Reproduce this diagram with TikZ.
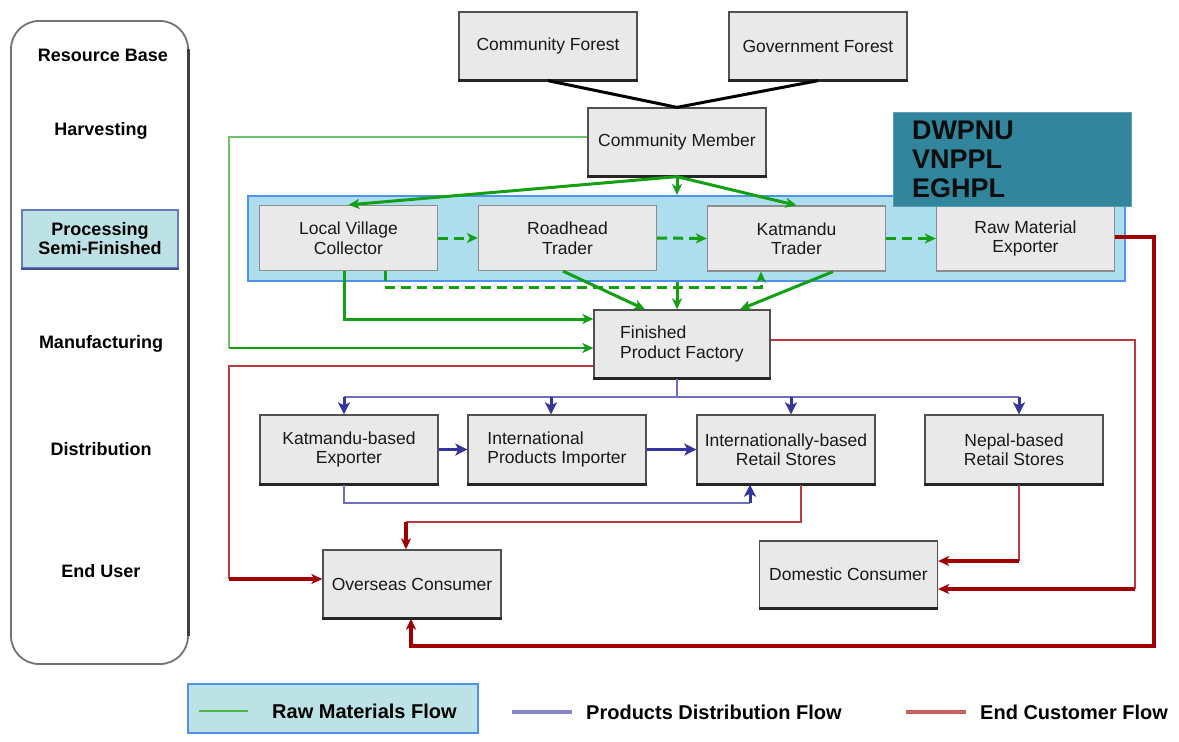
\documentclass[tikz,border=0pt]{standalone}
\usepackage{fontspec}
\setmainfont{Liberation Sans}
\usetikzlibrary{arrows.meta}
\definecolor{boxfill}{HTML}{E9E9E9}
\definecolor{boxline}{HTML}{505050}
\definecolor{softline}{HTML}{8C8C8C}
\definecolor{bandfill}{HTML}{ADDEEE}
\definecolor{bandline}{HTML}{4F92EE}
\definecolor{tealbox}{HTML}{31859C}
\definecolor{procfill}{HTML}{BCE2E6}
\definecolor{procline}{HTML}{6A78C0}
\definecolor{procedge}{HTML}{3F4FA0}
\definecolor{rawgreen}{HTML}{14A014}
\definecolor{lightgreen}{HTML}{6CC46C}
\definecolor{distblue}{HTML}{6F6FC0}
\definecolor{darkblue}{HTML}{3535A0}
\definecolor{darkred}{HTML}{A00000}
\definecolor{thinred}{HTML}{B83C3C}
\definecolor{legblue}{HTML}{8585C8}
\definecolor{legred}{HTML}{C86060}
\definecolor{leggreen}{HTML}{4CB84C}
\begin{document}
\begin{tikzpicture}[x=1pt,y=-1pt,
  flowbox/.style={draw=boxline, line width=1.3pt, fill=boxfill, inner sep=0pt,
    minimum width=178pt, minimum height=68pt,
    font=\fontsize{17.5}{19.5}\selectfont, text=black!90, align=center},
  bandbox/.style={flowbox, draw=softline, minimum height=65pt},
  stagelabel/.style={font=\fontsize{18}{19}\selectfont\bfseries, align=center, inner sep=0pt},
  legendtext/.style={font=\fontsize{20}{22}\selectfont\bfseries, anchor=west, inner sep=0pt},
  tip/.style={-{Stealth[length=11pt,width=10pt,inset=3pt]}},
  raw/.style={draw=rawgreen, line width=3pt},
  rawdash/.style={raw, dash pattern=on 10pt off 6pt},
  rawthin/.style={draw=lightgreen, line width=2pt},
  dist/.style={draw=distblue, line width=2pt},
  distarrow/.style={draw=darkblue, line width=3pt, -{Stealth[length=12pt,width=12pt,inset=3pt]}},
  custthin/.style={draw=thinred, line width=2pt},
  cust/.style={draw=darkred, line width=3.5pt},
  boxshade/.style={black!85, line width=2.5pt},
]
\useasboundingbox (0,0) rectangle (1179,742);

% stage column
\draw[black!55, line width=1.8pt, rounded corners=28pt] (11,21) rectangle (188,664);
\draw[black!75, line width=3pt] (188,49) -- (188,636);
\node[stagelabel] (sres) at (103,55) {Resource Base};
\node[stagelabel] (sharv) at (101,131) {Harvesting};
\node[stagelabel, draw=procline, fill=procfill, line width=1.5pt,
  minimum width=156pt, minimum height=58pt] (sproc) at (100,239) {Processing\\Semi-Finished};
\draw[procedge, line width=2.5pt] (sproc.south west) -- (sproc.south east);
\node[stagelabel] (sman) at (101,344) {Manufacturing};
\node[stagelabel] (sdist) at (101,449) {Distribution};
\node[stagelabel] (send) at (101,571) {End User};

% processing band
\node[draw=bandline, fill=bandfill, line width=2pt, minimum width=877pt,
  minimum height=85pt, inner sep=0pt] (band) at (686.5,238.5) {};

% actors
\node[flowbox] (cf) at (548,46) {Community Forest};
\node[flowbox] (gf) at (818,46) {Government Forest};
\node[flowbox] (cm) at (677,142) {Community Member};
\node[bandbox] (lvc) at (348.5,238) {Local Village\\Collector};
\node[bandbox] (rt) at (567.5,238) {Roadhead\\Trader};
\node[bandbox] (kt) at (796.5,238.5) {Katmandu\\Trader};
\node[bandbox] (rme) at (1025.5,238.5) {Raw Material\\Exporter};
\node[fill=tealbox, draw=tealbox!80!white, line width=1pt, text width=200pt,
  inner xsep=19pt, minimum height=94pt, align=left, text=black!95,
  font=\fontsize{27}{29}\selectfont\bfseries] (dw) at (1012,159) {DWPNU\\VNPPL\\EGHPL};
\node[flowbox, minimum width=176pt, align=left] (fpf) at (682,344) {Finished\\Product Factory};
\node[flowbox, minimum height=69pt] (kbe) at (349,449.5) {Katmandu-based\\Exporter};
\node[flowbox, minimum height=69pt, align=left] (ipi) at (557,449.5) {International\\ Products Importer};
\node[flowbox, minimum height=69pt] (ibr) at (786,449.5) {Internationally-based\\Retail Stores};
\node[flowbox, minimum height=69pt] (nbr) at (1014,449.5) {Nepal-based\\Retail Stores};
\node[flowbox] (oc) at (412,584) {Overseas Consumer};
\node[flowbox, minimum height=67pt] (dc) at (848.5,574.5) {Domestic Consumer};
\foreach \n in {cf,gf,cm,fpf,kbe,ipi,ibr,nbr,oc,dc}
  \draw[boxshade] (\n.south west) -- (\n.south east);

% raw materials flow
\draw[black, line width=3pt] (cf.south) -- (cm.north);
\draw[black, line width=3pt] (gf.south) -- (cm.north);
\coordinate (gbend) at (229,348);
\draw[rawthin] (cm.west |- 0,137) -| (gbend);
\draw[raw, line width=2.5pt, tip] (gbend) -- (fpf.west |- gbend);
\draw[raw, tip] (cm.south) -- (lvc.north);
\draw[raw, tip] (cm.south) -- (kt.north);
\draw[raw, tip] (cm.south) -- (cm.south |- band.north);
\draw[rawdash, tip] (lvc.east) -- (rt.west);
\draw[rawdash, tip] (rt.east) -- (kt.west);
\draw[rawdash, tip] (kt.east) -- (rme.west);
\draw[rawdash, tip] (lvc.south -| 385,0) -- (385,287) -| (kt.south -| 761,0);
\draw[raw, tip] (lvc.south -| 344,0) |- (fpf.west |- 0,319);
\draw[raw, tip] (rt.south -| 563,0) -- (fpf.north -| 645,0);
\draw[raw, tip] (band.south -| 677,0) -- (fpf.north -| 677,0);
\draw[raw, tip] (kt.south -| 833,0) -- (fpf.north -| 740,0);

% products distribution flow
\draw[dist] (fpf.south -| 677,0) -- (677,397);
\draw[dist] (344,397) -- (1019,397);
\draw[distarrow] (344,397) -- (kbe.north -| 344,0);
\draw[distarrow] (551,397) -- (ipi.north -| 551,0);
\draw[distarrow] (791,397) -- (ibr.north -| 791,0);
\draw[distarrow] (1019,397) -- (nbr.north -| 1019,0);
\draw[distarrow] (kbe.east) -- (ipi.west);
\draw[distarrow] (ipi.east) -- (ibr.west);
\coordinate (bbend) at (750,503);
\draw[dist] (kbe.south -| 344,0) |- (bbend);
\draw[distarrow] (bbend) -- (ibr.south -| bbend);

% end customer flow
\coordinate (rb1) at (229,579);
\draw[custthin] (fpf.west |- 0,366) -| (rb1);
\draw[cust, tip] (rb1) -- (oc.west |- rb1);
\coordinate (rb2) at (1135,589);
\draw[custthin] (fpf.east |- 0,340) -| (rb2);
\draw[cust, tip] (rb2) -- (dc.east |- rb2);
\draw[cust, tip] (rme.east |- 0,237) -- (1154,237) -- (1154,646) -- (411,646) -- (oc.south -| 411,0);
\coordinate (rb3) at (406,522);
\draw[custthin] (ibr.south -| 801,0) |- (rb3);
\draw[cust, tip] (rb3) -- (oc.north -| rb3);
\coordinate (rb4) at (1019,561);
\draw[custthin] (nbr.south -| rb4) -- (rb4);
\draw[cust, tip] (rb4) -- (dc.east |- rb4);

% legend
\node[fill=procfill, draw=bandline, line width=2pt, minimum width=290pt,
  minimum height=49pt, inner sep=0pt] (legbox) at (333,708.5) {};
\draw[leggreen, line width=2.5pt] (199,711) -- (248,711);
\node[legendtext] (legraw) at (272,711) {Raw Materials Flow};
\draw[legblue, line width=3.5pt] (512,712) -- (572,712);
\node[legendtext] (legdist) at (586,712) {Products Distribution Flow};
\draw[legred, line width=3.5pt] (906,712) -- (966,712);
\node[legendtext] (legcust) at (980,712) {End Customer Flow};
\end{tikzpicture}
\end{document}
